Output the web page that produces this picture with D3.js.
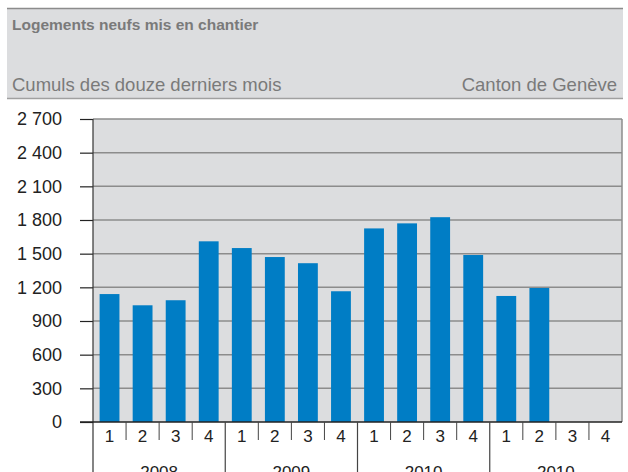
<!DOCTYPE html>
<html>
<head>
<meta charset="utf-8">
<script src="https://cdn.jsdelivr.net/npm/d3@7"></script>
<style>
  body { margin: 0; background: #fff; }
  svg { display: block; font-family: "Liberation Sans", Arial, sans-serif; }
</style>
</head>
<body>
<div id="chart"></div>
<script>
// Données (trimestres, cumuls des douze derniers mois)
const years = ['2008', '2009', '2010', '2010'];
const quarters = ['1', '2', '3', '4'];
const values = [1140, 1040, 1085, 1610, 1550, 1470, 1415, 1165, 1725, 1770, 1825, 1488, 1123, 1194, null, null];
const yTicks = [0, 300, 600, 900, 1200, 1500, 1800, 2100, 2400, 2700];

const W = 628, H = 472;
const plot = {left: 93, right: 622, top: 119, bottom: 422};

const svg = d3.select("#chart").append("svg")
    .attr("width", W)
    .attr("height", H);

// En-tête
svg.append("rect")
    .attr("x", 7).attr("y", 8)
    .attr("width", 616).attr("height", 90)
    .attr("fill", "#dcdddf");
svg.append("line")
    .attr("x1", 7).attr("x2", 623).attr("y1", 8.5).attr("y2", 8.5)
    .attr("stroke", "#8c8c8c").attr("stroke-width", 1.5);
svg.append("line")
    .attr("x1", 7).attr("x2", 623).attr("y1", 98.5).attr("y2", 98.5)
    .attr("stroke", "#a0a0a0").attr("stroke-width", 1.5);

svg.append("text")
    .attr("x", 12).attr("y", 30)
    .style("font-size", "15.5px")
    .style("font-weight", "bold")
    .attr("fill", "#7a7a7a")
    .text("Logements neufs mis en chantier");
svg.append("text")
    .attr("x", 12).attr("y", 91)
    .style("font-size", "18.5px")
    .attr("fill", "#7a7a7a")
    .text("Cumuls des douze derniers mois");
svg.append("text")
    .attr("x", 617).attr("y", 91)
    .attr("text-anchor", "end")
    .style("font-size", "18.5px")
    .attr("fill", "#7a7a7a")
    .text("Canton de Genève");

// Échelles
const labels = [];
years.forEach((yr, i) => quarters.forEach(q => labels.push(i + "-" + q)));

const x = d3.scaleBand()
    .domain(labels)
    .range([plot.left, plot.right])
    .paddingInner(0.4)
    .paddingOuter(0.2);

const y = d3.scaleLinear()
    .domain([0, 2700])
    .range([plot.bottom, plot.top]);

// Fond du graphique
svg.append("rect")
    .attr("x", plot.left).attr("y", plot.top)
    .attr("width", plot.right - plot.left)
    .attr("height", plot.bottom - plot.top)
    .attr("fill", "#dcdddf");

// Grille
svg.append("g")
    .selectAll("line")
    .data(yTicks.filter(d => d > 0))
    .join("line")
    .attr("x1", plot.left).attr("x2", plot.right)
    .attr("y1", d => y(d)).attr("y2", d => y(d))
    .attr("stroke", "#8c8c8c").attr("stroke-width", 1.5);

svg.append("line")
    .attr("x1", plot.right).attr("x2", plot.right)
    .attr("y1", plot.top).attr("y2", plot.bottom)
    .attr("stroke", "#8c8c8c").attr("stroke-width", 1.5);

// Barres
svg.append("g")
    .selectAll("rect")
    .data(values.map((v, i) => ({key: labels[i], v})).filter(d => d.v != null))
    .join("rect")
    .attr("x", d => x(d.key))
    .attr("y", d => y(d.v))
    .attr("width", x.bandwidth())
    .attr("height", d => y(0) - y(d.v))
    .attr("fill", "#007dc5");

// Axe Y
const yAxis = svg.append("g")
    .attr("transform", `translate(${plot.left},0)`)
    .call(d3.axisLeft(y)
        .tickValues(yTicks)
        .tickSize(13)
        .tickPadding(18)
        .tickFormat(d => d3.format(",")(d).replace(",", " ")));
yAxis.select(".domain").remove();
yAxis.selectAll(".tick line").attr("stroke", "#222").attr("stroke-width", 1.2);
yAxis.selectAll(".tick text")
    .attr("fill", "#222")
    .style("font-size", "18px")
    .style("font-family", "'Liberation Sans', Arial, sans-serif");

// Ligne verticale de l'axe Y (prolongée jusqu'en bas)
svg.append("line")
    .attr("x1", plot.left).attr("x2", plot.left)
    .attr("y1", plot.top).attr("y2", H)
    .attr("stroke", "#333").attr("stroke-width", 1.2);

// Axe X
svg.append("line")
    .attr("x1", 80).attr("x2", plot.right)
    .attr("y1", plot.bottom).attr("y2", plot.bottom)
    .attr("stroke", "#222").attr("stroke-width", 1.5);

const step = x.step();
const xg = svg.append("g");

// Séparateurs des trimestres
xg.selectAll(".qsep")
    .data(labels.filter((d, i) => i % 4 !== 0))
    .join("line")
    .attr("class", "qsep")
    .attr("x1", d => x(d) - x.paddingInner() * step / 2)
    .attr("x2", d => x(d) - x.paddingInner() * step / 2)
    .attr("y1", plot.bottom).attr("y2", 440)
    .attr("stroke", "#444").attr("stroke-width", 1);

// Séparateurs des années
xg.selectAll(".ysep")
    .data(labels.filter((d, i) => i % 4 === 0 && i > 0))
    .join("line")
    .attr("class", "ysep")
    .attr("x1", d => x(d) - x.paddingInner() * step / 2)
    .attr("x2", d => x(d) - x.paddingInner() * step / 2)
    .attr("y1", plot.bottom).attr("y2", H)
    .attr("stroke", "#444").attr("stroke-width", 1.2);

// Étiquettes des trimestres
xg.selectAll(".qlab")
    .data(labels)
    .join("text")
    .attr("class", "qlab")
    .attr("x", d => x(d) + x.bandwidth() / 2)
    .attr("y", 442)
    .attr("text-anchor", "middle")
    .attr("fill", "#222")
    .style("font-size", "17px")
    .text(d => d.split("-")[1]);

// Étiquettes des années
xg.selectAll(".ylab")
    .data(years)
    .join("text")
    .attr("class", "ylab")
    .attr("x", (d, i) => x(i + "-1") - x.paddingInner() * step / 2 + 2 * step)
    .attr("y", 478)
    .attr("text-anchor", "middle")
    .attr("fill", "#222")
    .style("font-size", "17px")
    .text(d => d);
</script>
</body>
</html>
